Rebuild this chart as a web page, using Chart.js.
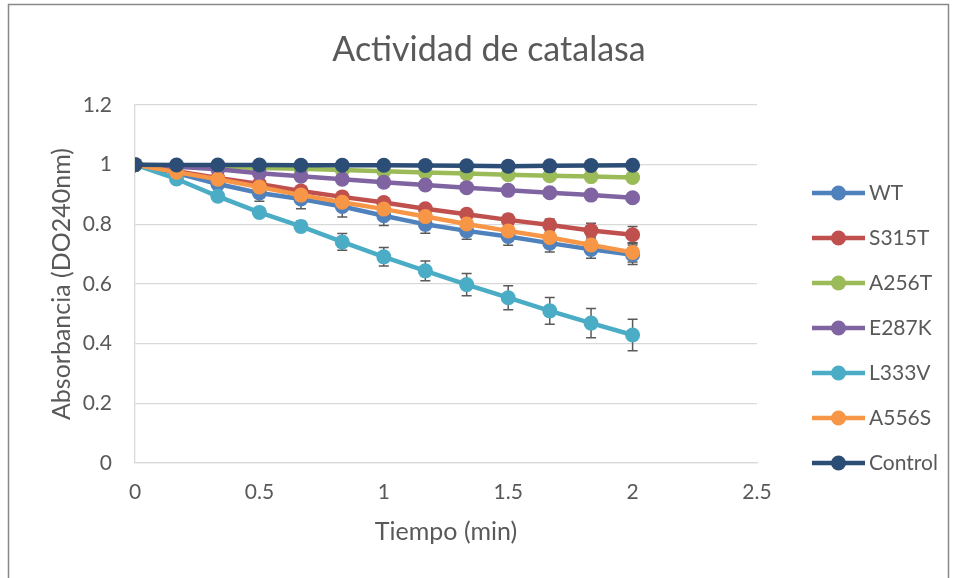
<!DOCTYPE html>
<html>
<head>
<meta charset="utf-8">
<script src="https://cdn.jsdelivr.net/npm/chart.js@4.4.1/dist/chart.umd.min.js"></script>
<style>
  html, body { margin: 0; padding: 0; background: #fff; }
</style>
</head>
<body>
<canvas id="c" width="956" height="578"></canvas>
<script>
// Tiempo (min) de cada lectura
const tiempo = [0, 0.167, 0.333, 0.5, 0.667, 0.833, 1, 1.167, 1.333, 1.5, 1.667, 1.833, 2];
const xTicks = [0, 0.5, 1, 1.5, 2, 2.5];
const yTicks = [0, 0.2, 0.4, 0.6, 0.8, 1, 1.2];

const nombres = ['WT', 'S315T', 'A256T', 'E287K', 'L333V', 'A556S', 'Control'];

// Absorbancia a 240 nm
const wt      = [1, 0.972, 0.935, 0.905, 0.885, 0.860, 0.829, 0.800, 0.778, 0.759, 0.737, 0.716, 0.698];
const s315t   = [1, 0.978, 0.955, 0.935, 0.912, 0.892, 0.873, 0.852, 0.834, 0.815, 0.798, 0.779, 0.765];
const a256t   = [1, 0.996, 0.993, 0.989, 0.986, 0.982, 0.978, 0.974, 0.970, 0.966, 0.963, 0.960, 0.957];
const e287k   = [1, 0.993, 0.985, 0.971, 0.961, 0.951, 0.941, 0.932, 0.923, 0.914, 0.906, 0.898, 0.889];
const l333v   = [1, 0.952, 0.894, 0.840, 0.793, 0.741, 0.691, 0.644, 0.598, 0.554, 0.510, 0.469, 0.429];
const a556s   = [1, 0.975, 0.951, 0.925, 0.898, 0.874, 0.851, 0.826, 0.801, 0.778, 0.756, 0.731, 0.706];
const control = [1, 0.999, 0.999, 0.999, 0.998, 0.998, 0.998, 0.997, 0.996, 0.995, 0.996, 0.997, 0.998];

// Desviación estándar
const wtErr      = [0, 0.004, 0.008, 0.028, 0.033, 0.035, 0.033, 0.030, 0.028, 0.029, 0.030, 0.030, 0.033];
const s315tErr   = [0, 0.003, 0.005, 0.007, 0.008, 0.010, 0.012, 0.014, 0.016, 0.018, 0.020, 0.025, 0.028];
const a256tErr   = [0, 0.002, 0.002, 0.003, 0.003, 0.003, 0.004, 0.004, 0.004, 0.005, 0.005, 0.005, 0.006];
const e287kErr   = [0, 0.002, 0.003, 0.004, 0.005, 0.005, 0.006, 0.006, 0.007, 0.007, 0.008, 0.008, 0.009];
const l333vErr   = [0, 0.005, 0.008, 0.010, 0.017, 0.028, 0.031, 0.033, 0.037, 0.040, 0.045, 0.049, 0.053];
const a556sErr   = [0, 0.004, 0.006, 0.008, 0.010, 0.012, 0.015, 0.018, 0.020, 0.022, 0.025, 0.030, 0.032];
const controlErr = [0, 0.001, 0.001, 0.001, 0.002, 0.002, 0.002, 0.002, 0.002, 0.003, 0.003, 0.003, 0.003];

const valores = [wt, s315t, a256t, e287k, l333v, a556s, control];
const errores = [wtErr, s315tErr, a256tErr, e287kErr, l333vErr, a556sErr, controlErr];
const colores = ['#4F81BD', '#C0504D', '#9BBB59', '#8064A2', '#4BACC6', '#F79646', '#2C4D75'];

const FONT = 'Lato, "Open Sans", sans-serif';
const GRIS_TEXTO = '#595959';

const datasets = nombres.map((nombre, i) => ({
  label: nombre,
  data: tiempo.map((t, j) => ({ x: t, y: valores[i][j] })),
  borderColor: colores[i],
  backgroundColor: colores[i],
  borderWidth: 4.5,
  pointRadius: 7.5,
  pointBorderWidth: 0,
  pointHoverRadius: 7.5,
  tension: 0,
  fill: false,
  order: nombres.length - 1 - i
}));

// Marco, título, barras de error y leyenda
const decoracion = {
  id: 'decoracion',
  beforeDraw(chart) {
    const ctx = chart.ctx;
    ctx.save();
    ctx.fillStyle = '#fff';
    ctx.fillRect(0, 0, chart.width, chart.height);
    ctx.strokeStyle = '#898989';
    ctx.lineWidth = 1.5;
    ctx.strokeRect(8.5, 4.5, 940, 620);
    ctx.fillStyle = GRIS_TEXTO;
    ctx.font = '34px ' + FONT;
    ctx.textAlign = 'center';
    ctx.textBaseline = 'middle';
    ctx.fillText('Actividad de catalasa', 489, 50);
    ctx.restore();
  },
  beforeDatasetsDraw(chart) {
    const ctx = chart.ctx;
    const xs = chart.scales.x, ys = chart.scales.y;
    ctx.save();
    ctx.strokeStyle = '#5a5a5a';
    ctx.lineWidth = 1.5;
    errores.forEach((err, i) => {
      err.forEach((e, j) => {
        if (!e) return;
        const x = xs.getPixelForValue(tiempo[j]);
        const yTop = ys.getPixelForValue(valores[i][j] + e);
        const yBot = ys.getPixelForValue(valores[i][j] - e);
        ctx.beginPath();
        ctx.moveTo(x, yTop); ctx.lineTo(x, yBot);
        ctx.moveTo(x - 5, yTop); ctx.lineTo(x + 5, yTop);
        ctx.moveTo(x - 5, yBot); ctx.lineTo(x + 5, yBot);
        ctx.stroke();
      });
    });
    ctx.restore();
  },
  afterDraw(chart) {
    const ctx = chart.ctx;
    ctx.save();
    ctx.font = '21px ' + FONT;
    ctx.textBaseline = 'middle';
    ctx.textAlign = 'left';
    nombres.forEach((nombre, i) => {
      const y = 193 + i * 45;
      ctx.strokeStyle = colores[i];
      ctx.lineWidth = 4.5;
      ctx.beginPath();
      ctx.moveTo(812, y); ctx.lineTo(865, y);
      ctx.stroke();
      ctx.fillStyle = colores[i];
      ctx.beginPath();
      ctx.arc(838.5, y, 7.5, 0, Math.PI * 2);
      ctx.fill();
      ctx.fillStyle = GRIS_TEXTO;
      ctx.fillText(nombre, 869, y);
    });
    ctx.restore();
  }
};

new Chart(document.getElementById('c'), {
  type: 'line',
  data: { datasets },
  options: {
    responsive: false,
    animation: false,
    devicePixelRatio: 1,
    layout: { padding: { left: 10, top: 105, right: 199, bottom: 0 } },
    plugins: {
      legend: { display: false },
      title: { display: false },
      tooltip: { enabled: false }
    },
    scales: {
      x: {
        type: 'linear',
        min: 0,
        max: 2.5,
        afterBuildTicks: s => { s.ticks = xTicks.map(v => ({ value: v })); },
        afterFit: s => { s.height = 115; },
        grid: { display: false, drawTicks: false },
        border: { display: true, color: '#d9d9d9', width: 1.3 },
        ticks: {
          color: GRIS_TEXTO,
          font: { family: FONT, size: 21 },
          padding: 17,
          callback: v => String(Math.round(v * 10) / 10)
        },
        title: {
          display: true,
          text: 'Tiempo (min)',
          color: GRIS_TEXTO,
          font: { family: FONT, size: 25 },
          padding: { top: 0, bottom: 31 }
        }
      },
      y: {
        min: 0,
        max: 1.2,
        afterBuildTicks: s => { s.ticks = yTicks.map(v => ({ value: v })); },
        afterFit: s => { s.width = 125; },
        grid: { color: '#d9d9d9', lineWidth: 1.3, drawTicks: false },
        border: { display: true, color: '#d9d9d9', width: 1.3 },
        ticks: {
          color: GRIS_TEXTO,
          font: { family: FONT, size: 21 },
          padding: 23,
          callback: v => String(Math.round(v * 10) / 10)
        },
        title: {
          display: true,
          text: 'Absorbancia (DO240nm)',
          color: GRIS_TEXTO,
          font: { family: FONT, size: 25 },
          padding: { top: 37, bottom: 0 }
        }
      }
    }
  },
  plugins: [decoracion]
});
</script>
</body>
</html>
